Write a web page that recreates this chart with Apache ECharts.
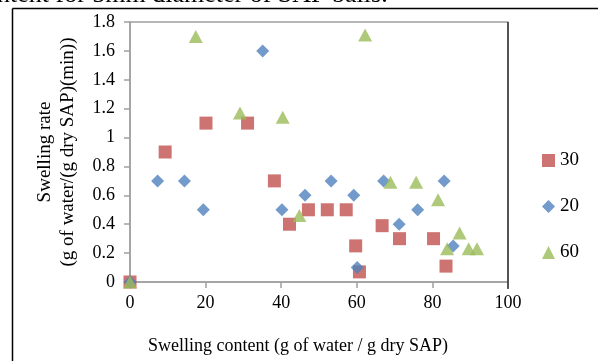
<!DOCTYPE html>
<html>
<head>
<meta charset="utf-8">
<script src="https://cdn.jsdelivr.net/npm/echarts@6/dist/echarts.min.js"></script>
<style>
  html, body { margin: 0; padding: 0; background: #fff; }
  #chart { width: 598px; height: 361px; }
</style>
</head>
<body>
<div id="chart"></div>
<script>
// Swelling content (x) vs swelling rate (y) for three SAP series
const seriesNames = ['30', '20', '60'];

const content30 = [0, 9.3, 20.1, 31.1, 38.2, 42.2, 47.2, 52.2, 57.2, 59.7, 60.7, 66.7, 71.3, 80.3, 83.6];
const rate30    = [0, 0.9, 1.1, 1.1, 0.7, 0.4, 0.5, 0.5, 0.5, 0.25, 0.07, 0.39, 0.3, 0.3, 0.11];

const content20 = [0, 7.3, 14.4, 19.4, 35.1, 40.2, 46.3, 53.2, 59.2, 60.1, 67.1, 71.2, 76.1, 83.1, 85.5];
const rate20    = [0, 0.7, 0.7, 0.5, 1.6, 0.5, 0.6, 0.7, 0.6, 0.1, 0.7, 0.4, 0.5, 0.7, 0.25];

const content60 = [0, 17.4, 29.1, 40.4, 44.8, 62.2, 68.9, 75.7, 81.5, 83.9, 87.2, 89.6, 91.8];
const rate60    = [0, 1.7, 1.17, 1.14, 0.46, 1.71, 0.69, 0.69, 0.57, 0.23, 0.34, 0.23, 0.23];

const xTicks = [0, 20, 40, 60, 80, 100];
const yTicks = [0, 0.2, 0.4, 0.6, 0.8, 1, 1.2, 1.4, 1.6, 1.8];

const colors = ['#C0504D', '#4F81BD', '#9BBB59'];
const symbols = ['rect', 'diamond', 'triangle'];

const pair = (xs, ys) => xs.map((x, i) => [x, ys[i]]);
const seriesData = [pair(content30, rate30), pair(content20, rate20), pair(content60, rate60)];

const FONT = '"Liberation Serif", "DejaVu Serif", serif';
const G = { left: 130, right: 90, top: 22, bottom: 79 };
const W = 598, H = 361;
const axisGray = '#a0a0a0';

const chart = echarts.init(document.getElementById('chart'), null, { renderer: 'canvas' });

chart.setOption({
  animation: false,
  backgroundColor: '#ffffff',
  grid: {
    left: G.left, right: G.right, top: G.top, bottom: G.bottom,
    show: true, borderColor: axisGray, borderWidth: 1.5, backgroundColor: 'transparent'
  },
  legend: {
    orient: 'vertical',
    left: 537, top: 146,
    itemWidth: 13, itemHeight: 13, itemGap: 27,
    textStyle: { fontFamily: FONT, fontSize: 19, color: '#000' },
    data: seriesNames.map((n, i) => ({ name: n, icon: symbols[i] }))
  },
  xAxis: {
    type: 'value',
    min: xTicks[0], max: xTicks[xTicks.length - 1], interval: 20,
    splitLine: { show: false },
    axisLine: { lineStyle: { color: axisGray, width: 1.5 } },
    axisTick: { show: true, inside: false, length: 6, lineStyle: { color: axisGray, width: 1.5 } },
    axisLabel: { margin: 12, fontFamily: FONT, fontSize: 18, color: '#000' },
    name: 'Swelling content (g of water / g dry SAP)',
    nameLocation: 'middle', nameGap: 55,
    nameTextStyle: { fontFamily: FONT, fontSize: 18, color: '#000', padding: [0, 42, 0, 0] }
  },
  yAxis: {
    type: 'value',
    min: yTicks[0], max: yTicks[yTicks.length - 1], interval: 0.2,
    splitLine: { show: false },
    axisLine: { lineStyle: { color: axisGray, width: 1.5 } },
    axisTick: { show: true, inside: false, length: 6, lineStyle: { color: axisGray, width: 1.5 } },
    axisLabel: {
      margin: 15, fontFamily: FONT, fontSize: 18, color: '#000',
      formatter: v => String(Math.round(v * 10) / 10)
    },
    name: 'Swelling rate\n(g of water/(g dry SAP)(min))',
    nameLocation: 'middle', nameGap: 50, nameRotate: 90,
    nameTextStyle: { fontFamily: FONT, fontSize: 19, color: '#000', lineHeight: 23 }
  },
  series: seriesNames.map((n, i) => ({
    name: n,
    type: 'scatter',
    symbol: symbols[i],
    symbolSize: i === 2 ? [14, 13] : 13,
    itemStyle: { color: colors[i] },
    data: seriesData[i],
    z: 2 + i
  })),
  graphic: [
    // outer frame lines of the surrounding box
    { type: 'line', shape: { x1: 12.5, y1: 8.5, x2: W, y2: 8.5 }, style: { stroke: '#000', lineWidth: 1.5 }, z: 10 },
    { type: 'line', shape: { x1: 12.5, y1: 8.5, x2: 12.5, y2: H }, style: { stroke: '#000', lineWidth: 1.5 }, z: 10 },
    // dark right edge of the plot area
    { type: 'line', shape: { x1: W - G.right, y1: G.top, x2: W - G.right, y2: H - G.bottom + 7 }, style: { stroke: '#333', lineWidth: 1.5 }, z: 10 },
    // clipped caption line above the box
    { type: 'text', left: -3, top: -18, style: { text: 'ntent for 5mm diameter of SAP balls.', font: '26px ' + FONT, fill: '#000' }, z: 10 }
  ]
});
</script>
</body>
</html>
